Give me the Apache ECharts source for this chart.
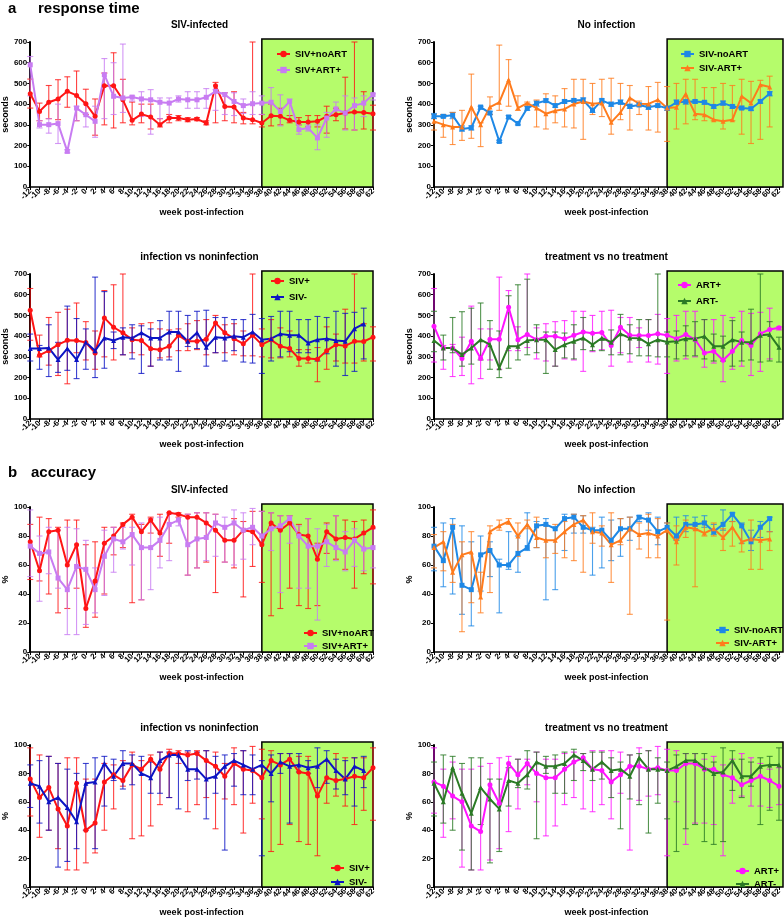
<!DOCTYPE html>
<html><head><meta charset="utf-8">
<script src="https://cdn.jsdelivr.net/npm/echarts@6/dist/echarts.min.js"></script>
<style>html,body{margin:0;padding:0;background:#fff}#c{width:784px;height:918px}</style>
</head><body><div id="c"></div>
<script>
// ---------- data ----------
const weeks = [-12,-10,-8,-6,-4,-2,0,2,4,6,8,10,12,14,16,18,20,22,24,26,28,30,32,34,36,38,40,42,44,46,48,50,52,54,56,58,60,62];
const xTickLabels = weeks.map(String);
const treatStart = 38, treatEnd = 62;

// a) response time (seconds) - SIV-infected
const rtSivNoArt   = [450,365,409,425,462,442,402,341,489,489,421,322,352,338,301,333,333,325,328,309,489,389,386,333,325,309,344,341,322,314,314,317,341,349,357,362,360,354];
const rtSivNoArtLo = [381,320,330,325,385,320,350,250,300,285,310,300,310,280,290,310,320,315,320,300,310,320,310,305,305,290,295,300,310,300,290,290,260,320,280,275,280,275];
const rtSivNoArtHi = [521,405,490,518,532,560,472,425,550,648,520,410,400,400,330,350,345,335,335,320,505,455,460,360,700,350,400,380,345,335,345,345,390,380,530,700,460,395];
const rtSivArt     = [590,301,301,306,172,381,349,317,542,438,430,434,425,421,409,405,425,421,421,433,462,446,413,393,402,405,409,365,413,277,285,237,333,377,357,393,405,446];
const rtSivArtLo   = [440,285,260,210,165,320,290,240,330,350,360,415,340,255,330,340,410,380,380,380,370,350,345,355,350,350,340,295,320,255,270,180,240,350,275,275,340,420];
const rtSivArtHi   = [630,320,330,400,180,390,400,390,620,600,690,440,460,470,430,430,440,460,460,475,470,455,455,425,460,440,480,445,425,300,300,300,360,410,440,430,440,450];
// No infection
const rtNoArt   = [341,341,346,280,286,386,357,220,338,306,380,404,417,393,413,418,420,370,418,399,409,389,396,385,393,380,409,412,413,409,389,405,389,381,378,413,451,null];
const rtNoArtLo = [330,335,330,270,275,375,350,215,330,300,370,390,410,385,405,410,410,360,405,390,400,380,390,375,385,370,400,400,405,400,380,395,380,375,370,405,440,null];
const rtNoArtHi = [355,350,360,295,295,390,365,225,345,315,390,415,425,400,420,425,430,380,425,410,420,400,405,395,400,390,420,420,420,415,395,415,395,390,385,420,460,null];
const rtArt     = [317,301,290,290,386,301,386,409,518,381,405,381,354,368,376,401,413,402,405,312,360,430,402,401,421,381,385,449,354,349,325,317,325,438,405,494,483,null];
const rtArtLo   = [275,240,205,225,235,195,350,370,390,370,390,290,280,310,290,285,230,350,340,255,325,275,350,275,265,220,280,305,325,320,320,280,320,255,210,230,290,null];
const rtArtHi   = [350,350,360,370,545,310,435,685,615,440,410,420,450,440,475,520,520,500,520,525,500,490,415,485,505,485,500,520,520,480,480,500,490,520,510,515,535,null];
// infection vs noninfection
const rtSivPos   = [525,308,330,359,380,379,369,319,488,443,416,383,379,339,334,351,404,375,375,385,464,416,388,363,404,359,382,351,340,292,292,289,330,359,353,375,374,395];
const rtSivPosLo = [380,300,260,210,170,320,285,240,300,285,310,320,310,255,295,300,330,330,335,310,320,320,310,305,305,300,295,295,300,255,270,180,240,280,270,270,280,280];
const rtSivPosHi = [630,405,490,515,530,560,470,425,620,648,700,440,460,465,435,430,435,460,475,480,500,455,460,425,700,435,480,440,425,335,335,345,445,410,530,700,460,445];
const rtSivNeg   = [340,340,343,287,340,287,371,330,391,379,395,391,416,391,391,420,420,375,416,346,395,391,399,395,420,383,388,411,404,404,367,383,388,379,375,436,459,null];
const rtSivNegLo = [280,240,205,225,235,195,240,200,245,340,310,290,220,255,285,285,230,350,340,255,320,280,330,275,270,220,280,300,325,320,320,280,315,255,210,230,290,null];
const rtSivNegHi = [410,355,455,370,545,485,435,685,615,420,440,455,450,435,475,520,520,500,520,525,490,490,480,480,505,485,495,520,520,480,480,495,490,520,510,515,535,null];
// treatment vs no treatment
const rtArtPos   = [448,343,343,292,375,292,385,385,539,383,408,383,399,399,387,404,420,414,417,355,443,404,403,403,412,404,388,408,383,319,327,284,327,379,355,412,432,440];
const rtArtPosLo = [275,240,205,210,170,195,285,240,330,330,345,290,280,255,290,285,230,325,335,255,320,275,345,275,265,220,280,290,300,250,270,180,240,255,210,230,290,430];
const rtArtPosHi = [630,355,360,395,545,435,435,685,620,445,700,440,460,470,475,520,520,500,520,525,490,490,440,480,505,485,500,520,520,480,480,500,490,520,510,515,535,445];
const rtArtNeg   = [379,343,343,311,343,383,359,247,351,351,379,382,383,335,359,375,391,359,391,371,411,391,390,363,383,372,375,388,388,399,351,351,383,371,372,404,408,346];
const rtArtNegLo = [325,285,320,255,265,285,240,200,245,285,310,320,220,255,295,290,335,330,330,310,310,315,305,305,300,300,290,305,305,290,280,280,255,280,285,275,280,275];
const rtArtNegHi = [520,405,490,518,535,560,475,425,595,648,675,455,420,420,415,455,490,415,380,430,505,455,480,480,700,420,425,450,470,480,410,400,475,420,530,700,470,395];

// b) accuracy (%) - SIV-infected
const acSivNoArt   = [76,56,83,84,60,74,30,49,75,80,88,93,83,91,82,96,95,93,93,89,84,77,77,84,83,74,89,84,89,81,80,64,83,78,79,78,82,86];
const acSivNoArtLo = [50,49,40,27,30,44,17,24,40,67,72,34,36,82,66,75,93,53,58,62,41,62,58,38,59,48,25,30,44,32,30,32,68,64,57,44,54,47];
const acSivNoArtHi = [88,93,92,86,91,91,74,76,86,86,89,95,88,93,95,96,96,95,96,96,95,87,92,90,97,97,96,94,94,88,92,75,89,94,91,90,91,98];
const acSivArt     = [73,68,69,51,43,59,57,43,66,78,76,81,72,72,77,88,91,74,78,79,89,86,89,84,86,80,85,87,92,80,73,73,76,72,69,77,71,72];
const acSivArtLo   = [52,35,54,44,12,12,19,27,39,55,71,60,36,43,58,63,87,53,58,63,66,62,60,64,74,75,70,41,75,44,44,22,59,63,56,59,56,58];
const acSivArtHi   = [98,80,86,84,86,85,77,58,84,86,86,86,89,92,93,95,95,95,96,96,95,93,98,96,99,97,96,94,94,87,92,85,88,94,83,85,83,85];
// No infection
const acNoArt   = [73,63,86,46,43,67,70,60,60,68,72,87,88,85,92,93,86,84,84,77,85,85,93,91,83,86,80,88,88,89,83,88,95,87,76,86,92,null];
const acNoArtLo = [56,45,40,26,18,42,52,27,57,55,70,72,36,43,70,82,82,53,58,63,66,77,90,84,74,85,77,83,85,86,81,84,90,75,70,79,83,null];
const acNoArtHi = [86,89,92,87,76,80,76,64,83,80,96,90,92,86,95,95,94,86,93,91,92,93,94,96,93,89,93,94,93,94,88,98,96,89,84,90,93,null];
const acArt     = [72,76,55,67,69,38,83,87,90,80,88,79,77,77,83,88,91,83,82,74,77,85,81,82,80,84,76,86,85,82,85,79,86,76,78,77,78,null];
const acArtLo   = [58,56,48,14,34,27,41,84,88,66,85,72,65,68,65,63,55,75,73,48,74,26,71,65,65,22,60,79,45,80,80,70,73,69,57,57,70,null];
const acArtHi   = [81,83,88,76,83,55,87,91,92,89,91,93,87,88,90,95,94,96,87,96,92,93,89,95,92,89,87,91,87,90,89,85,90,88,91,87,83,null];
// infection vs noninfection
const acSivPos   = [76,63,70,55,43,73,40,45,74,79,75,86,83,90,83,94,94,93,94,89,85,78,87,83,82,77,89,86,90,81,80,64,77,75,76,78,77,84];
const acSivPosLo = [50,35,40,27,12,12,17,24,40,55,71,34,36,43,58,63,87,53,58,63,41,62,58,38,59,48,25,30,44,32,30,22,59,64,57,44,54,47];
const acSivPosHi = [98,93,92,87,91,91,76,76,87,86,89,95,89,93,95,97,96,95,96,96,95,87,98,96,99,97,96,94,94,92,92,85,89,94,91,91,91,98];
const acSivNeg   = [73,71,60,63,56,46,73,74,87,78,87,87,80,77,89,93,93,83,83,76,78,85,89,86,83,86,80,88,85,86,84,85,90,82,76,85,82,null];
const acSivNegLo = [56,45,40,14,18,27,40,27,57,75,69,72,79,66,66,63,55,75,76,48,66,26,71,65,65,22,60,80,45,81,80,70,73,69,65,57,70,null];
const acSivNegHi = [86,89,92,87,83,80,87,91,92,90,96,93,92,88,95,95,94,96,95,96,92,93,94,96,93,89,93,94,94,94,89,98,96,90,89,91,92,null];
// treatment vs no treatment
const acArtPos   = [74,71,64,60,43,39,72,59,87,79,87,80,77,77,83,88,91,83,82,74,79,85,85,83,84,82,82,87,87,83,83,79,77,72,75,78,75,71];
const acArtPosLo = [52,35,48,14,12,12,19,27,39,55,72,60,36,43,58,63,55,53,58,48,66,26,61,64,65,22,60,30,45,45,44,22,59,64,57,57,56,58];
const acArtPosHi = [98,83,88,83,83,85,87,91,92,90,90,95,90,90,94,95,94,96,96,96,95,93,98,96,99,97,96,94,94,90,92,86,90,94,91,87,83,84];
const acArtNeg   = [73,60,84,66,52,70,62,55,75,73,79,88,85,85,87,93,89,83,88,82,83,78,91,83,83,82,85,89,89,84,80,81,89,78,78,85,86,86];
const acArtNegLo = [50,45,40,26,12,44,17,25,57,70,69,34,80,66,66,75,82,75,76,63,41,62,58,38,59,48,25,41,44,32,30,32,68,63,71,44,54,47];
const acArtNegHi = [88,93,92,87,91,91,76,76,84,90,96,95,92,93,95,97,94,95,95,91,88,93,94,96,91,88,93,94,94,94,88,98,96,90,88,91,92,98];

// ---------- styles / layout ----------
const C = {
  red:'#ff1414', lav:'#c87cf2', blue:'#1e88e6', orange:'#ff7b1c',
  navy:'#0c14c4', magenta:'#ff14ff', dkgreen:'#2b7a25', box:'#b5fc6b'
};
const FONT = 'Liberation Sans, Arial, sans-serif';
const NARROW = '"Liberation Sans Narrow", "Arial Narrow", "Liberation Sans", sans-serif';
const L = 26, R = 434, WL = 347, WR = 345, H = 145;
const panels = [
  {left:L, top:42, w:WL, title:'SIV-infected', yMax:700, yInt:100, yName:'seconds', legend:[276,49,6], s:[
    {name:'SIV+noART', d:rtSivNoArt, lo:rtSivNoArtLo, hi:rtSivNoArtHi, c:C.red, sym:'circle'},
    {name:'SIV+ART+', d:rtSivArt, lo:rtSivArtLo, hi:rtSivArtHi, c:C.lav, sym:'rect'}]},
  {left:R, top:42, w:WR, title:'No infection', yMax:700, yInt:100, yName:'seconds', legend:[680,49,4], ext:true, s:[
    {name:'SIV-noART', d:rtNoArt, lo:rtNoArtLo, hi:rtNoArtHi, c:C.blue, sym:'rect'},
    {name:'SIV-ART+', d:rtArt, lo:rtArtLo, hi:rtArtHi, c:C.orange, sym:'triangle'}]},
  {left:L, top:274, w:WL, title:'infection vs noninfection', yMax:700, yInt:100, yName:'seconds', legend:[270,276,6], s:[
    {name:'SIV+', d:rtSivPos, lo:rtSivPosLo, hi:rtSivPosHi, c:C.red, sym:'circle'},
    {name:'SIV-', d:rtSivNeg, lo:rtSivNegLo, hi:rtSivNegHi, c:C.navy, sym:'triangle'}]},
  {left:R, top:274, w:WR, title:'treatment vs no treatment', yMax:700, yInt:100, yName:'seconds', legend:[677,280,6], ext:true, s:[
    {name:'ART+', d:rtArtPos, lo:rtArtPosLo, hi:rtArtPosHi, c:C.magenta, sym:'circle'},
    {name:'ART-', d:rtArtNeg, lo:rtArtNegLo, hi:rtArtNegHi, c:C.dkgreen, sym:'triangle'}]},
  {left:L, top:507, w:WL, title:'SIV-infected', yMax:100, yInt:20, yName:'%', legend:[303,628,3], s:[
    {name:'SIV+noART', d:acSivNoArt, lo:acSivNoArtLo, hi:acSivNoArtHi, c:C.red, sym:'circle'},
    {name:'SIV+ART+', d:acSivArt, lo:acSivArtLo, hi:acSivArtHi, c:C.lav, sym:'rect'}]},
  {left:R, top:507, w:WR, title:'No infection', yMax:100, yInt:20, yName:'%', legend:[715,625,3], ext:true, s:[
    {name:'SIV-noART', d:acNoArt, lo:acNoArtLo, hi:acNoArtHi, c:C.blue, sym:'rect'},
    {name:'SIV-ART+', d:acArt, lo:acArtLo, hi:acArtHi, c:C.orange, sym:'triangle'}]},
  {left:L, top:745, w:WL, title:'infection vs noninfection', yMax:100, yInt:20, yName:'%', legend:[330,863,4], s:[
    {name:'SIV+', d:acSivPos, lo:acSivPosLo, hi:acSivPosHi, c:C.red, sym:'circle'},
    {name:'SIV-', d:acSivNeg, lo:acSivNegLo, hi:acSivNegHi, c:C.navy, sym:'triangle'}]},
  {left:R, top:745, w:WR, title:'treatment vs no treatment', yMax:100, yInt:20, yName:'%', legend:[735,866,3], ext:true, s:[
    {name:'ART+', d:acArtPos, lo:acArtPosLo, hi:acArtPosHi, c:C.magenta, sym:'circle'},
    {name:'ART-', d:acArtNeg, lo:acArtNegLo, hi:acArtNegHi, c:C.dkgreen, sym:'triangle'}]}
];

const iStart = weeks.indexOf(treatStart), iEnd = weeks.indexOf(treatEnd);
const grid=[], xAxis=[], yAxis=[], series=[], legend=[], graphic=[];
panels.forEach((p, k) => {
  grid.push({left:p.left, top:p.top, width:p.w, height:H});
  xAxis.push({gridIndex:k, type:'category', data:xTickLabels, boundaryGap:false,
    axisLine:{show:true, onZero:false, lineStyle:{color:'#000', width:1.5}},
    axisTick:{show:true, interval:0, length:3, lineStyle:{color:'#000'}},
    axisLabel:{interval:0, rotate:45, fontSize:8, fontWeight:'bold', color:'#000', fontFamily:FONT, margin:3},
    splitLine:{show:false},
    name:'week post-infection', nameLocation:'middle', nameGap:21,
    nameTextStyle:{fontSize:9, fontWeight:'bold', color:'#000', fontFamily:FONT}});
  yAxis.push({gridIndex:k, type:'value', min:0, max:p.yMax, interval:p.yInt,
    axisLine:{show:true, onZero:false, lineStyle:{color:'#000', width:2}},
    axisTick:{show:true, length:3, lineStyle:{color:'#000'}},
    axisLabel:{fontSize:8, fontWeight:'bold', color:'#000', fontFamily:FONT, margin:3},
    splitLine:{show:false},
    name:p.yName, nameLocation:'middle', nameGap:p.yName==='%'?12:19, nameRotate:90,
    nameTextStyle:{fontSize:9, fontWeight:'bold', color:'#000', fontFamily:FONT}});
  // treatment box
  const yMax = p.yMax, ext = p.ext ? 4 : 0;
  series.push({type:'custom', name:'box'+k, xAxisIndex:k, yAxisIndex:k, z:1, silent:true,
    data:[[iStart, iEnd, yMax]],
    renderItem:(params, api) => {
      const a = api.coord([api.value(0), api.value(2)]);
      const b = api.coord([api.value(1), 0]);
      return {type:'rect', shape:{x:a[0], y:a[1]-3, width:b[0]-a[0]+ext, height:b[1]-a[1]+3},
        style:{fill:C.box, stroke:'#000', lineWidth:1.5}};
    }});
  p.s.forEach(s => {
    const eb = [];
    weeks.forEach((w, i) => { if (s.lo[i] != null) eb.push([i, s.lo[i], s.hi[i]]); });
    series.push({type:'custom', name:s.name+' err'+k, xAxisIndex:k, yAxisIndex:k, z:2, silent:true,
      data:eb, encode:{x:0, y:[1,2]},
      renderItem:(params, api) => {
        const x = api.value(0);
        const p1 = api.coord([x, api.value(1)]), p2 = api.coord([x, api.value(2)]);
        const cw = 3, st = {stroke:s.c, lineWidth:1.1, opacity:0.8};
        return {type:'group', children:[
          {type:'line', shape:{x1:p1[0], y1:p1[1], x2:p2[0], y2:p2[1]}, style:st},
          {type:'line', shape:{x1:p1[0]-cw, y1:p1[1], x2:p1[0]+cw, y2:p1[1]}, style:st},
          {type:'line', shape:{x1:p2[0]-cw, y1:p2[1], x2:p2[0]+cw, y2:p2[1]}, style:st}]};
      }});
    series.push({type:'line', name:s.name, xAxisIndex:k, yAxisIndex:k, z:3,
      data:s.d, connectNulls:false,
      symbol:s.sym, symbolSize:5, showSymbol:true,
      lineStyle:{color:s.c, width:2}, itemStyle:{color:s.c}, animation:false});
  });
  legend.push({orient:'vertical', left:p.legend[0], top:p.legend[1], itemGap:p.legend[2], padding:0,
    itemWidth:13, itemHeight:8, data:p.s.map(s => s.name), selectedMode:false,
    textStyle:{fontSize:9.5, fontWeight:'bold', color:'#000', fontFamily:NARROW}});
  graphic.push({type:'text', x:p.left + p.w/2, y:p.top - 17,
    style:{text:p.title, font:'bold 10px ' + FONT, textAlign:'center', textVerticalAlign:'middle', fill:'#000'}});
});
graphic.push({type:'text', x:8, y:9, style:{text:'a', font:'bold 15px ' + FONT, textVerticalAlign:'middle', fill:'#000'}});
graphic.push({type:'text', x:38, y:9, style:{text:'response time', font:'bold 15px ' + FONT, textVerticalAlign:'middle', fill:'#000'}});
graphic.push({type:'text', x:8, y:473, style:{text:'b', font:'bold 15px ' + FONT, textVerticalAlign:'middle', fill:'#000'}});
graphic.push({type:'text', x:31, y:473, style:{text:'accuracy', font:'bold 15px ' + FONT, textVerticalAlign:'middle', fill:'#000'}});

const chart = echarts.init(document.getElementById('c'), null, {renderer:'canvas'});
chart.setOption({animation:false, grid, xAxis, yAxis, series, legend, graphic});
</script></body></html>
